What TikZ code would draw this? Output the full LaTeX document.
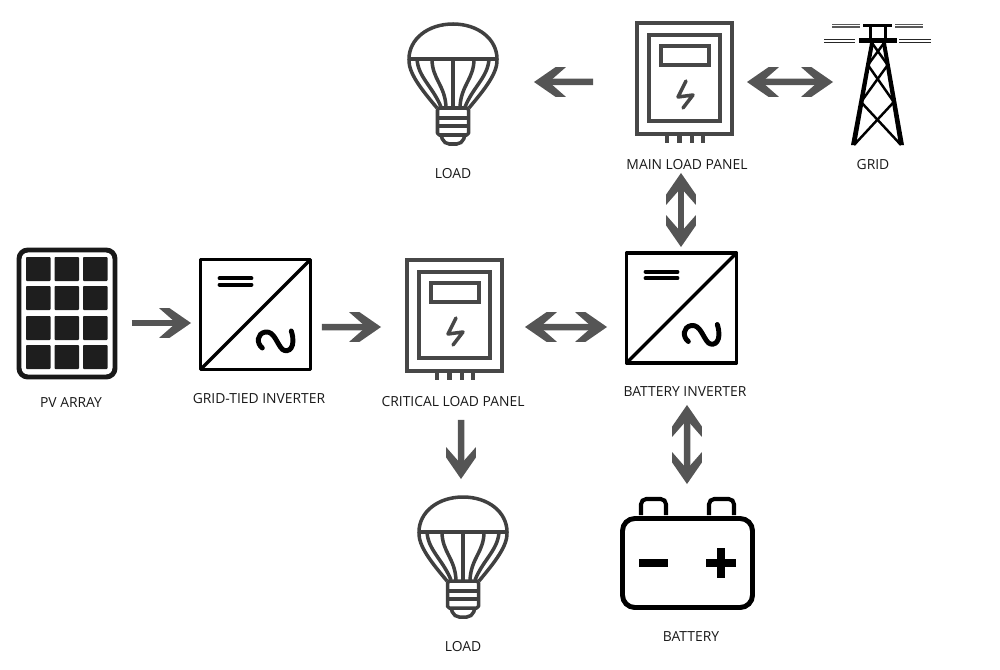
\documentclass[tikz,border=0pt]{standalone}
\usepackage{fontspec}
\setmainfont{Open Sans}
\usetikzlibrary{arrows.meta}

\definecolor{flowgray}{HTML}{555555}
\definecolor{panelgray}{HTML}{474747}
\definecolor{bulbgray}{HTML}{404040}
\definecolor{cellblack}{HTML}{1E1E1E}

% flat-backed chevron head
\pgfdeclarearrow{
  name=Chevron,
  setup code={
    \pgfarrowssettipend{0pt}
    \pgfarrowssetbackend{-18.2pt}
    \pgfarrowssetlineend{-6pt}
    \pgfarrowssetvisualbackend{-6pt}
    \pgfarrowshullpoint{0pt}{0pt}
    \pgfarrowshullpoint{-18.2pt}{8.5pt}
    \pgfarrowshullpoint{-18.2pt}{-8.5pt}
  },
  drawing code={
    \pgfpathmoveto{\pgfqpoint{0pt}{0pt}}
    \pgfpathlineto{\pgfqpoint{-12.3pt}{8.5pt}}
    \pgfpathlineto{\pgfqpoint{-18.2pt}{8.5pt}}
    \pgfpathlineto{\pgfqpoint{-8.5pt}{0pt}}
    \pgfpathlineto{\pgfqpoint{-18.2pt}{-8.5pt}}
    \pgfpathlineto{\pgfqpoint{-12.3pt}{-8.5pt}}
    \pgfpathclose
    \pgfusepathqfill
  }
}

\tikzset{
  oneway/.style={draw=flowgray, line width=3.7pt, -{Chevron}},
  twoway/.style={draw=flowgray, line width=3.7pt, {Chevron}-{Chevron}},
  iconbox/.style={inner sep=0pt, outer sep=0pt},
  caption/.style={font=\fontsize{7.9}{10}\selectfont, text=black!90, inner sep=0pt},
  pics/bulb/.style={code={
    \draw[bulbgray, line width=2pt, line join=round] (-44,0) .. controls (-44,-20) and (-25,-35) .. (0,-35)
      .. controls (25,-35) and (44,-20) .. (44,0) -- cycle;
    \draw[bulbgray, line width=2pt] (0,0) -- (0,49);
    \foreach \s in {-1,1}{
      \draw[bulbgray, line width=2pt, xscale=\s] (44,0) .. controls (45,14) and (31,31) .. (16,49);
      \draw[bulbgray, line width=2pt, xscale=\s] (36,0) .. controls (35,18) and (20,28) .. (12,48);
      \draw[bulbgray, line width=2pt, xscale=\s] (21,0) .. controls (21,20) and (8,26) .. (7,48);
    }
    \draw[bulbgray, line width=2pt, line join=round, rounded corners=1pt] (-15.5,49) rectangle (15.5,76);
    \draw[bulbgray, line width=2pt] (-15.5,59) -- (15.5,59) (-15.5,67) -- (15.5,67);
    \draw[bulbgray, line width=2pt, rounded corners=3pt] (-12,76) -- (-9,85) -- (9,85) -- (12,76);
  }},
  pics/panel/.style={code={
    \draw[panelgray, line width=2.7pt] (0,0) rectangle (95,111);
    \draw[panelgray, line width=2.3pt] (12,12) rectangle (83,98);
    \draw[panelgray, line width=2.3pt] (24,23) rectangle (72,42);
    \draw[panelgray, line width=2pt, line join=round, line cap=round] (49,58) -- (41,74) -- (56,72) -- (46,85);
    \foreach \fx in {30,42.5,55,66}{
      \draw[panelgray, line width=2.8pt] (\fx,112) -- (\fx,120);
    }
  }},
  pics/inverter/.style={code={
    \draw[black, line width=2pt, line join=round] (0,0) rectangle (110,110);
    \draw[black, line width=2pt] (110,0) -- (0,110);
    \draw[black, line width=2.2pt, line cap=round] (19,18.8) -- (51,18.8) (19,25.2) -- (51,25.2);
    \draw[black, line width=2.8pt, line cap=round] (61.8,88.5) .. controls (56,84) and (56,74) .. (65,72.5)
      .. controls (74,71.5) and (76,84) .. (82,90) .. controls (88,94) and (96,88) .. (90.8,71.5);
  }}
}

\begin{document}
\begin{tikzpicture}[x=0.02cm, y=-0.02cm]
\useasboundingbox (0,0) rectangle (1000,669);

% icon areas
\node[iconbox, minimum width=2cm, minimum height=2.62cm] (pv) at (67,313) {};
\node[iconbox, minimum width=2.2cm, minimum height=2.2cm] (gridinv) at (255.5,315) {};
\node[iconbox, minimum width=2cm, minimum height=2.3cm] (critpanel) at (454.5,315.5) {};
\node[iconbox, minimum width=2.2cm, minimum height=2.2cm] (batinv) at (681.5,308) {};
\node[iconbox, minimum width=2cm, minimum height=2.3cm] (mainpanel) at (684.5,78.5) {};
\node[iconbox, minimum width=2.14cm, minimum height=2.42cm] (tower) at (877.5,85) {};
\node[iconbox, minimum width=2.7cm, minimum height=2.26cm] (battery) at (687.5,553) {};
\node[iconbox, minimum width=1.8cm, minimum height=2.44cm] (loadtop) at (453,85) {};
\node[iconbox, minimum width=1.8cm, minimum height=2.44cm] (loadbot) at (463,558) {};

% pv array
\draw[black!90, line width=2.8pt, rounded corners=5pt] (19,250) rectangle (115,377);
\foreach \cx in {26,54.5,83}{
  \foreach \cy in {257,286,316,345}{
    \fill[cellblack, rounded corners=0.5pt] (\cx,\cy) rectangle ++(24.5,24);
  }
}

\pic at (200.5,259.5) {inverter};
\pic at (626.5,253) {inverter};
\pic at (407,260) {panel};
\pic at (637,23) {panel};
\pic at (453,59) {bulb};
\pic at (463,532) {bulb};

% tower
\fill[black] (851,145) -- (856,145) -- (874,43) -- (870,43) -- cycle;
\fill[black] (899,145) -- (904,145) -- (886,43) -- (882,43) -- cycle;
\draw[black, line width=2pt] (863,25.7) -- (892,25.7);
\draw[black, line width=2.6pt] (859,40.7) -- (897,40.7);
\draw[black, line width=1.7pt] (870,26) -- (870,41) (885,26) -- (885,41);
\draw[black, line width=1.4pt] (872,43) -- (887.7,65) -- (861,102) -- (901,145);
\draw[black, line width=1.4pt] (884,43) -- (867.9,65) -- (893.8,102) -- (854,145);
\foreach \wy in {24.6,27}{
  \draw[black!65, line width=0.8pt] (832,\wy) -- (860,\wy) (895,\wy) -- (923,\wy);
}
\foreach \wy in {39.6,42.4}{
  \draw[black!85, line width=0.8pt] (824,\wy) -- (855,\wy) (899,\wy) -- (931,\wy);
}

% battery
\draw[black, line width=2.8pt, rounded corners=7pt] (622.5,518.5) rectangle (752.5,607.5);
\draw[black, line width=2.3pt, rounded corners=3pt] (641,515) -- (641,499) -- (666,499) -- (666,515);
\draw[black, line width=2.3pt, rounded corners=3pt] (709,515) -- (709,499) -- (734,499) -- (734,515);
\fill[black] (639,559) rectangle (668,567);
\fill[black] (706,559) rectangle (736,567);
\fill[black] (717,548) rectangle (725,578);

% connectors
\draw[oneway] ([shift={(-41.5,3.5)}]mainpanel.west) -- ([shift={(36,-3)}]loadtop.east);
\draw[twoway] ([shift={(12.5,3.5)}]mainpanel.east) -- ([shift={(9,-3)}]tower.west);
\draw[twoway] ([shift={(-3.5,37)}]mainpanel.south) -- ([shift={(-0.5,-6)}]batinv.north);
\draw[oneway] ([shift={(15,10)}]pv.east) -- ([shift={(-9.5,8)}]gridinv.west);
\draw[oneway] ([shift={(11.5,12)}]gridinv.east) -- ([shift={(-23.5,11.5)}]critpanel.west);
\draw[twoway] ([shift={(20.5,11.5)}]critpanel.east) -- ([shift={(-19.5,19)}]batinv.west);
\draw[twoway] ([shift={(5.5,42)}]batinv.south) -- ([shift={(-0.5,-12.5)}]battery.north);
\draw[oneway] ([shift={(6.5,47)}]critpanel.south) -- ([shift={(-2,-18)}]loadbot.north);

% labels
\node[caption] (loadtoplabel) at (453,174) {LOAD};
\node[caption] (mainlabel) at (687,165) {MAIN LOAD PANEL};
\node[caption] (gridlabel) at (873,165) {GRID};
\node[caption] (pvlabel) at (71,403) {PV ARRAY};
\node[caption] (gridinvlabel) at (259,399) {GRID-TIED INVERTER};
\node[caption] (critlabel) at (453,402) {CRITICAL LOAD PANEL};
\node[caption] (batinvlabel) at (685,392) {BATTERY INVERTER};
\node[caption] (loadbotlabel) at (463,647) {LOAD};
\node[caption] (batterylabel) at (691,637) {BATTERY};

\end{tikzpicture}
\end{document}
